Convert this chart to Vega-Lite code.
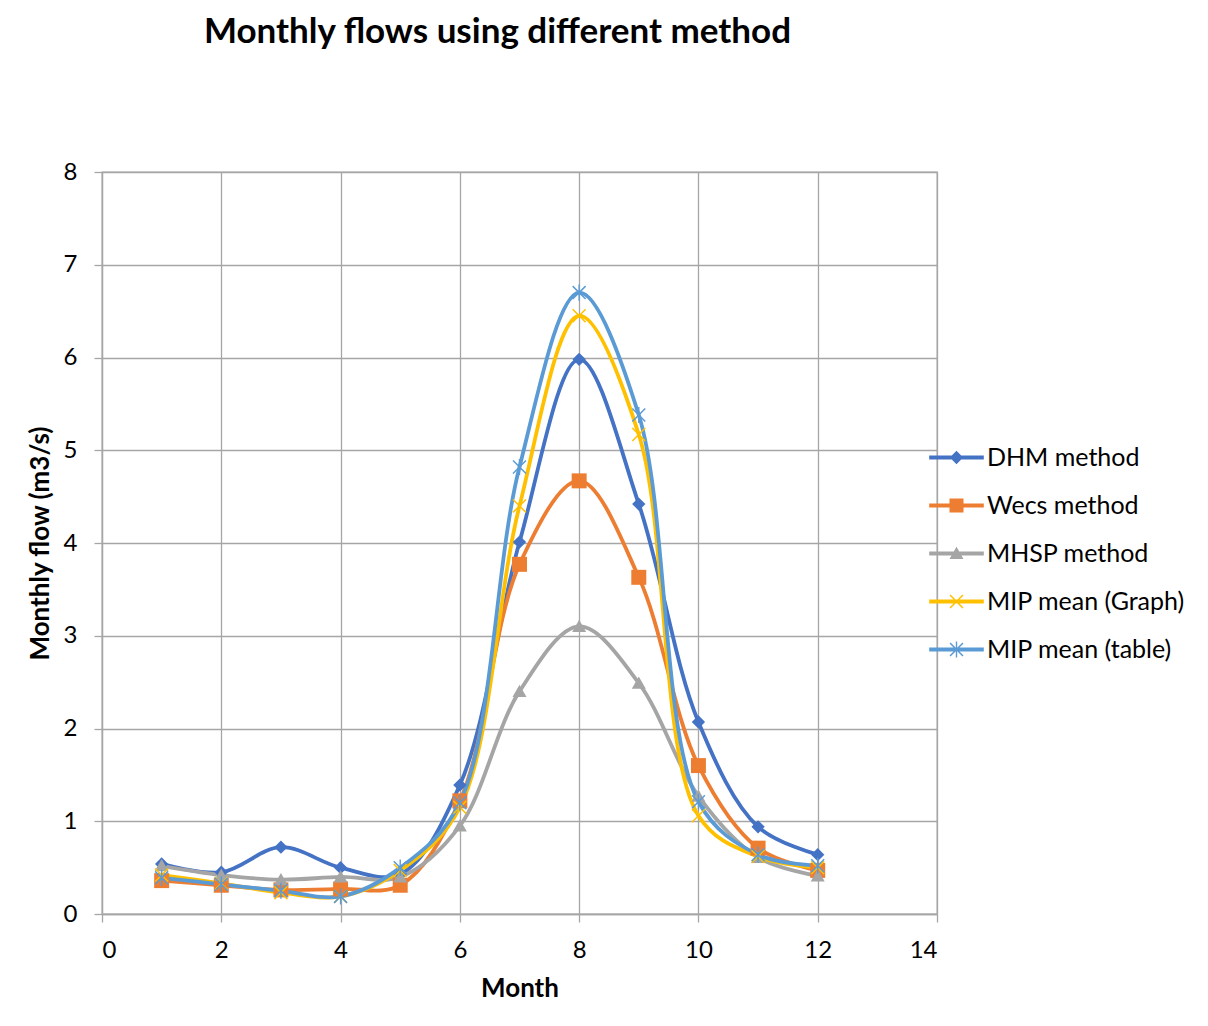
{
  "$schema": "https://vega.github.io/schema/vega-lite/v6.json",
  "width": 835,
  "height": 742,
  "autosize": {"type": "none"},
  "padding": {"left": 102, "top": 172, "right": 271, "bottom": 112},
  "background": "white",
  "config": {
    "font": "Lato",
    "view": {"stroke": "#a6a6a6", "strokeWidth": 1.3},
    "axis": {
      "gridColor": "#a6a6a6", "gridWidth": 1.3, "gridOpacity": 1,
      "domainColor": "#a6a6a6", "domainWidth": 1.3,
      "tickColor": "#a6a6a6", "tickWidth": 1.3, "tickSize": 8,
      "labelFont": "Lato", "labelFontSize": 24, "labelColor": "#000000",
      "titleFont": "Lato", "titleFontSize": 26, "titleFontWeight": "bold", "titleColor": "#000000"
    },
    "legend": {
      "labelFont": "Lato", "labelFontSize": 25, "labelColor": "#000000",
      "labelOffset": 18, "symbolSize": 196, "symbolStrokeWidth": 0,
      "rowPadding": 22, "labelLimit": 300
    }
  },
  "title": {
    "text": "Monthly flows using different method",
    "font": "Lato", "fontSize": 35, "fontWeight": "bold", "color": "#000000",
    "anchor": "middle", "dx": -22, "offset": 110
  },
  "data": {
    "values": [
      {"month": 1, "series": "DHM method", "flow": 0.54},
      {"month": 2, "series": "DHM method", "flow": 0.45},
      {"month": 3, "series": "DHM method", "flow": 0.72},
      {"month": 4, "series": "DHM method", "flow": 0.50},
      {"month": 5, "series": "DHM method", "flow": 0.43},
      {"month": 6, "series": "DHM method", "flow": 1.39},
      {"month": 7, "series": "DHM method", "flow": 4.01},
      {"month": 8, "series": "DHM method", "flow": 5.98},
      {"month": 9, "series": "DHM method", "flow": 4.42},
      {"month": 10, "series": "DHM method", "flow": 2.07},
      {"month": 11, "series": "DHM method", "flow": 0.94},
      {"month": 12, "series": "DHM method", "flow": 0.64},
      {"month": 1, "series": "Wecs method", "flow": 0.36},
      {"month": 2, "series": "Wecs method", "flow": 0.31},
      {"month": 3, "series": "Wecs method", "flow": 0.26},
      {"month": 4, "series": "Wecs method", "flow": 0.27},
      {"month": 5, "series": "Wecs method", "flow": 0.31},
      {"month": 6, "series": "Wecs method", "flow": 1.22},
      {"month": 7, "series": "Wecs method", "flow": 3.77},
      {"month": 8, "series": "Wecs method", "flow": 4.67},
      {"month": 9, "series": "Wecs method", "flow": 3.63},
      {"month": 10, "series": "Wecs method", "flow": 1.60},
      {"month": 11, "series": "Wecs method", "flow": 0.71},
      {"month": 12, "series": "Wecs method", "flow": 0.47},
      {"month": 1, "series": "MHSP method", "flow": 0.52},
      {"month": 2, "series": "MHSP method", "flow": 0.42},
      {"month": 3, "series": "MHSP method", "flow": 0.37},
      {"month": 4, "series": "MHSP method", "flow": 0.40},
      {"month": 5, "series": "MHSP method", "flow": 0.40},
      {"month": 6, "series": "MHSP method", "flow": 0.95},
      {"month": 7, "series": "MHSP method", "flow": 2.40},
      {"month": 8, "series": "MHSP method", "flow": 3.10},
      {"month": 9, "series": "MHSP method", "flow": 2.49},
      {"month": 10, "series": "MHSP method", "flow": 1.27},
      {"month": 11, "series": "MHSP method", "flow": 0.61},
      {"month": 12, "series": "MHSP method", "flow": 0.41},
      {"month": 1, "series": "MIP mean (Graph)", "flow": 0.42},
      {"month": 2, "series": "MIP mean (Graph)", "flow": 0.33},
      {"month": 3, "series": "MIP mean (Graph)", "flow": 0.23},
      {"month": 4, "series": "MIP mean (Graph)", "flow": 0.19},
      {"month": 5, "series": "MIP mean (Graph)", "flow": 0.47},
      {"month": 6, "series": "MIP mean (Graph)", "flow": 1.15},
      {"month": 7, "series": "MIP mean (Graph)", "flow": 4.40},
      {"month": 8, "series": "MIP mean (Graph)", "flow": 6.45},
      {"month": 9, "series": "MIP mean (Graph)", "flow": 5.17},
      {"month": 10, "series": "MIP mean (Graph)", "flow": 1.06},
      {"month": 11, "series": "MIP mean (Graph)", "flow": 0.62},
      {"month": 12, "series": "MIP mean (Graph)", "flow": 0.50},
      {"month": 1, "series": "MIP mean (table)", "flow": 0.39},
      {"month": 2, "series": "MIP mean (table)", "flow": 0.32},
      {"month": 3, "series": "MIP mean (table)", "flow": 0.25},
      {"month": 4, "series": "MIP mean (table)", "flow": 0.19},
      {"month": 5, "series": "MIP mean (table)", "flow": 0.50},
      {"month": 6, "series": "MIP mean (table)", "flow": 1.20},
      {"month": 7, "series": "MIP mean (table)", "flow": 4.82},
      {"month": 8, "series": "MIP mean (table)", "flow": 6.70},
      {"month": 9, "series": "MIP mean (table)", "flow": 5.38},
      {"month": 10, "series": "MIP mean (table)", "flow": 1.21},
      {"month": 11, "series": "MIP mean (table)", "flow": 0.64},
      {"month": 12, "series": "MIP mean (table)", "flow": 0.52}
    ]
  },
  "encoding": {
    "x": {
      "field": "month", "type": "quantitative", "title": "Month",
      "scale": {"domain": [0, 14], "nice": false, "zero": false},
      "axis": {"values": [0, 2, 4, 6, 8, 10, 12, 14], "labelPadding": 16, "titlePadding": 13, "grid": true}
    },
    "y": {
      "field": "flow", "type": "quantitative", "title": "Monthly flow (m3/s)",
      "scale": {"domain": [0, 8], "nice": false},
      "axis": {"values": [0, 1, 2, 3, 4, 5, 6, 7, 8], "labelPadding": 17, "titlePadding": 10, "grid": true}
    },
    "color": {
      "field": "series", "type": "nominal",
      "scale": {
        "domain": ["DHM method", "Wecs method", "MHSP method", "MIP mean (Graph)", "MIP mean (table)"],
        "range": ["#4472c4", "#ed7d31", "#a5a5a5", "#ffc000", "#5b9bd5"]
      },
      "legend": {"title": null, "orient": "none", "legendX": 842, "legendY": 273}
    }
  },
  "layer": [
    {
      "mark": {"type": "line", "interpolate": "catmull-rom", "strokeWidth": 3.8},
      "encoding": {"detail": {"field": "series"}}
    },
    {
      "transform": [{"filter": "datum.series === 'DHM method'"}],
      "mark": {"type": "point", "filled": true, "opacity": 1, "size": 196, "strokeWidth": 0, "shape": "M0,-0.95L0.95,0L0,0.95L-0.95,0Z"}
    },
    {
      "transform": [{"filter": "datum.series === 'Wecs method'"}],
      "mark": {"type": "point", "filled": true, "opacity": 1, "size": 196, "strokeWidth": 0, "shape": "M-1.07,-1.07L1.07,-1.07L1.07,1.07L-1.07,1.07Z"}
    },
    {
      "transform": [{"filter": "datum.series === 'MHSP method'"}],
      "mark": {"type": "point", "filled": true, "opacity": 1, "size": 196, "strokeWidth": 0, "shape": "M0,-0.95L1,0.8L-1,0.8Z"}
    },
    {
      "transform": [{"filter": "datum.series === 'MIP mean (Graph)'"}],
      "mark": {"type": "point", "filled": true, "opacity": 1, "size": 196, "strokeWidth": 0, "shape": "M-1,-0.85L-0.85,-1L1,0.85L0.85,1Z M0.85,-1L1,-0.85L-0.85,1L-1,0.85Z"}
    },
    {
      "transform": [{"filter": "datum.series === 'MIP mean (table)'"}],
      "mark": {"type": "point", "filled": true, "opacity": 1, "size": 196, "strokeWidth": 0, "shape": "M-1,-0.85L-0.85,-1L1,0.85L0.85,1Z M0.85,-1L1,-0.85L-0.85,1L-1,0.85Z M-0.1,-1.15L0.1,-1.15L0.1,1.15L-0.1,1.15Z"}
    },
    {
      "transform": [{"filter": "datum.flow > 100"}],
      "mark": {"type": "point", "filled": true, "opacity": 1, "strokeWidth": 0},
      "encoding": {
        "shape": {
          "field": "series", "type": "nominal",
          "legend": {"title": null, "orient": "none", "legendX": 842, "legendY": 273},
          "scale": {
            "domain": ["DHM method", "Wecs method", "MHSP method", "MIP mean (Graph)", "MIP mean (table)"],
            "range": [
              "M-3.9,-0.27L3.9,-0.27L3.9,0.27L-3.9,0.27Z M0,-0.95L0.95,0L0,0.95L-0.95,0Z",
              "M-3.9,-0.27L3.9,-0.27L3.9,0.27L-3.9,0.27Z M-1.0,-1.0L1.0,-1.0L1.0,1.0L-1.0,1.0Z",
              "M-3.9,-0.27L3.9,-0.27L3.9,0.27L-3.9,0.27Z M0,-0.95L1,0.8L-1,0.8Z",
              "M-3.9,-0.27L3.9,-0.27L3.9,0.27L-3.9,0.27Z M-1,-0.85L-0.85,-1L1,0.85L0.85,1Z M0.85,-1L1,-0.85L-0.85,1L-1,0.85Z",
              "M-3.9,-0.27L3.9,-0.27L3.9,0.27L-3.9,0.27Z M-1,-0.85L-0.85,-1L1,0.85L0.85,1Z M0.85,-1L1,-0.85L-0.85,1L-1,0.85Z M-0.1,-1.15L0.1,-1.15L0.1,1.15L-0.1,1.15Z"
            ]
          }
        }
      }
    }
  ]
}
